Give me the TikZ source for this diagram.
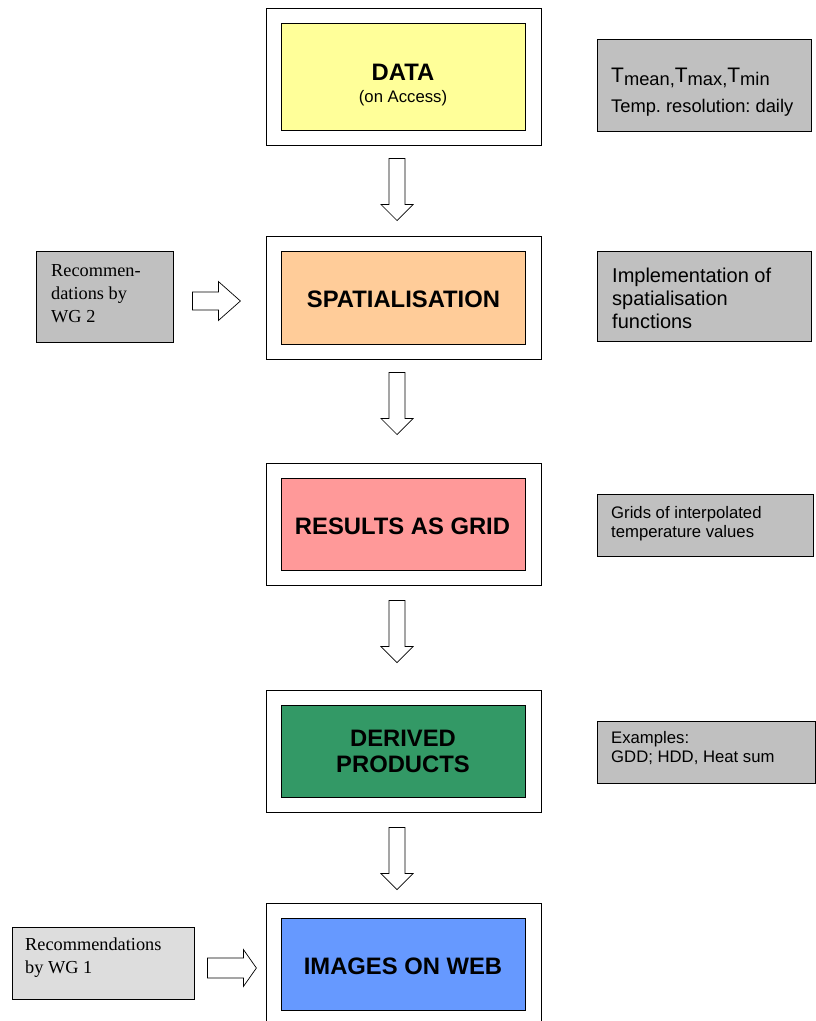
\documentclass[tikz,border=0pt]{standalone}
\usepackage{fontspec}
\setmainfont{Liberation Sans}
\newfontfamily\timesf{Liberation Serif}
\usetikzlibrary{calc}
\definecolor{cdata}{HTML}{FFFF99}
\definecolor{cspat}{HTML}{FFCC99}
\definecolor{cres}{HTML}{FF9999}
\definecolor{cder}{HTML}{339966}
\definecolor{cimg}{HTML}{6699FF}
\definecolor{cgray}{HTML}{C0C0C0}
\definecolor{clgray}{HTML}{DDDDDD}
\newcommand\lowsub[1]{\raisebox{-3pt}{\fontsize{18.3}{22}\selectfont #1}}
\frenchspacing
\begin{document}
\begin{tikzpicture}[x=1pt,y=-1pt,
  outer/.style={draw=black,line width=1pt,fill=white,minimum width=275pt,inner sep=0pt},
  inner/.style={draw=black,line width=0.8pt,minimum width=244pt,inner sep=0pt},
  note/.style={draw=black,line width=0.8pt,fill=cgray,inner sep=0pt},
  title/.style={font=\fontsize{23.8}{27}\selectfont\bfseries,anchor=base,inner sep=0pt},
  txt/.style={anchor=base west,inner sep=0pt},
  rtxt/.style={txt,font=\fontsize{18.3}{22}\selectfont},
  btxt/.style={txt,font=\fontsize{20}{23}\selectfont},
  stxt/.style={txt,font=\fontsize{16.7}{20}\selectfont},
  ttxt/.style={txt,font=\fontsize{18.3}{22}\selectfont\timesf},
  blk/.style={draw=black,line width=0.7pt,fill=white,line join=miter},
  downarr/.pic={\draw[blk] (-8,0) -- (-8,46) -- (-16,46) -- (0,62) -- (16,46) -- (8,46) -- (8,0) -- cycle;},
  rightarrA/.pic={\draw[blk] (0,-9) -- (26,-9) -- (26,-19.5) -- (48,0) -- (26,19.5) -- (26,9) -- (0,9) -- cycle;},
  rightarrB/.pic={\draw[blk] (0,-10) -- (36,-10) -- (36,-18.5) -- (49,0) -- (36,18.5) -- (36,10) -- (0,10) -- cycle;}
]
\path[use as bounding box,clip] (0,0) rectangle (816,1021);

% main column
\node[outer,minimum height=137pt] (o1) at (403.5,76.5) {};
\node[inner,fill=cdata,minimum height=107pt] (i1) at (403,76.5) {};
\node[title] (t1) at (403,80) {DATA};
\node[anchor=base,inner sep=0pt,font=\fontsize{16.7}{20}\selectfont] (t1b) at (403,102) {(on Access)};

\node[outer,minimum height=123pt] (o2) at (403.5,297.5) {};
\node[inner,fill=cspat,minimum height=93pt] (i2) at (403,297.5) {};
\node[title] (t2) at (403.5,307) {SPATIALISATION};

\node[outer,minimum height=122pt] (o3) at (403.5,524) {};
\node[inner,fill=cres,minimum height=92pt] (i3) at (403,524) {};
\node[title] (t3) at (402.5,534) {RESULTS AS GRID};

\node[outer,minimum height=122pt] (o4) at (403.5,751) {};
\node[inner,fill=cder,minimum height=92pt] (i4) at (403,751) {};
\node[title] (t4) at (403,746) {DERIVED};
\node[title] (t4b) at (403,772) {PRODUCTS};

\node[outer,minimum height=122pt] (o5) at (403.5,964) {};
\node[inner,fill=cimg,minimum height=92pt] (i5) at (403,964) {};
\node[title] (t5) at (403,974) {IMAGES ON WEB};

% down arrows
\pic at ($(o1.south)+(-6.5,13)$) {downarr};
\pic at ($(o2.south)+(-6.5,13)$) {downarr};
\pic at ($(o3.south)+(-6.5,15)$) {downarr};
\pic at ($(o4.south)+(-6.5,15)$) {downarr};

% right notes
\node[note,minimum width=214pt,minimum height=92pt] (nA) at (704,85) {};
\node[txt,font=\fontsize{21}{24}\selectfont] (nA1) at (611,82) {T\lowsub{mean,}T\lowsub{max,}T\lowsub{min}};
\node[rtxt] (nA2) at (611,112) {Temp. resolution: daily};

\node[note,minimum width=214pt,minimum height=90pt] (nB) at (704,296.5) {};
\node[btxt] (nB1) at (612,282) {Implementation of};
\node[btxt] (nB2) at (612,305) {spatialisation};
\node[btxt] (nB3) at (612,328) {functions};

\node[note,minimum width=216pt,minimum height=62pt] (nC) at (705,525) {};
\node[stxt] (nC1) at (611,518) {Grids of interpolated};
\node[stxt] (nC2) at (611,537) {temperature values};

\node[note,minimum width=218pt,minimum height=62pt] (nD) at (706,752) {};
\node[stxt] (nD1) at (611,743) {Examples:};
\node[stxt] (nD2) at (611,762) {GDD; HDD, Heat sum};

% left notes
\node[note,minimum width=137pt,minimum height=91pt] (wg2) at (104.5,297) {};
\node[ttxt] (wg2a) at (51,276) {Recommen-};
\node[ttxt] (wg2b) at (51,299) {dations by};
\node[ttxt] (wg2c) at (51,322) {WG 2};
\pic at ($(wg2.east)+(19,4)$) {rightarrA};

\node[note,fill=clgray,minimum width=182pt,minimum height=72pt] (wg1) at (103,963) {};
\node[ttxt] (wg1a) at (25,950) {Recommendations};
\node[ttxt] (wg1b) at (25,973) {by WG 1};
\pic at ($(wg1.east)+(13,5)$) {rightarrB};
\end{tikzpicture}
\end{document}
